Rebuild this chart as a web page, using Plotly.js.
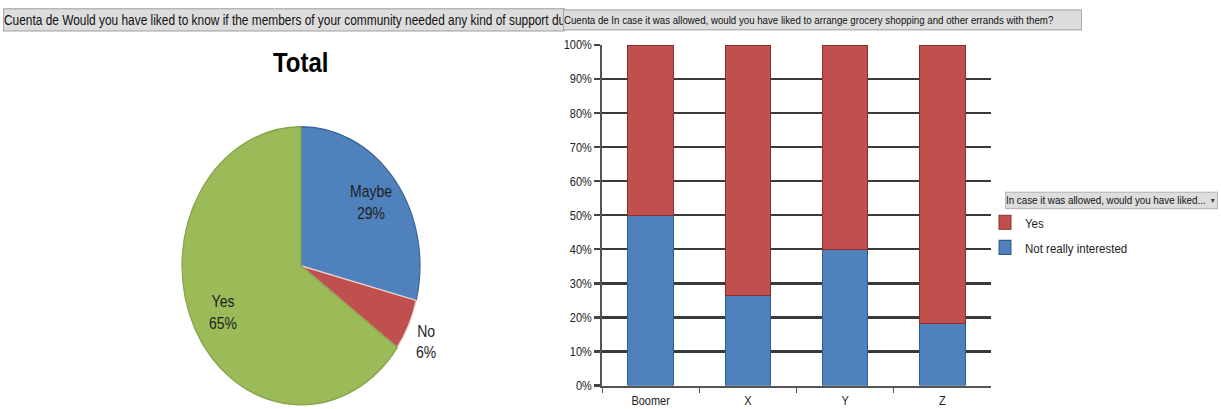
<!DOCTYPE html>
<html>
<head>
<meta charset="utf-8">
<script src="https://cdn.plot.ly/plotly-3.0.1.min.js"></script>
<style>
  html, body { margin: 0; padding: 0; background: #ffffff; overflow: hidden; width: 1221px; height: 409px; }
  #chart { width: 1221px; height: 350px; transform: scaleY(1.1686); transform-origin: 0 0; }
</style>
</head>
<body>
<div id="chart"></div>
<script>
// ---- data ----
const pieLabels = ["Maybe", "No", "Yes"];
const pieValues = [29, 6, 65];
const pieTitle = "Total";

const categories = ["Boomer", "X", "Y", "Z"];
const notInterested = [50, 26.5, 40, 18.2];
const yesValues = [50, 73.5, 60, 81.8];
const yTickVals = [0, 10, 20, 30, 40, 50, 60, 70, 80, 90, 100];
const yTickText = ["0%", "10%", "20%", "30%", "40%", "50%", "60%", "70%", "80%", "90%", "100%"];

const leftHeader = "Cuenta de Would you have liked to know if the members of your community needed any kind of support du";
const rightHeader = "Cuenta de In case it was allowed, would you have liked to arrange grocery shopping and other errands with them?";
const legendHeader = "In case it was allowed, would you have liked...";

// ---- geometry (unscaled figure: 1221 x 350) ----
const W = 1221, H = 350;
const FONT = "Liberation Sans, Arial, sans-serif";
const px = v => v / W;
const py = v => 1 - v / H;

// pie placement
const pieCx = 301, pieCy = 227.4, pieR = 119;
const labelInside = [true, false, true];

const traces = [
  {
    type: "pie",
    labels: pieLabels,
    values: pieValues,
    sort: false,
    direction: "clockwise",
    rotation: 0,
    domain: { x: [px(pieCx - pieR), px(pieCx + pieR)], y: [py(pieCy + pieR), py(pieCy - pieR)] },
    marker: {
      colors: ["#4f81bd", "#c0504d", "#9bbb59"],
      line: { color: ["#3c6596", "#e8d4d4", "#86a34a"], width: 1.2 }
    },
    textinfo: "none",
    showlegend: false,
    hoverinfo: "label+percent"
  },
  {
    type: "bar",
    name: "Not really interested",
    legendgroup: "notint",
    legendrank: 2,
    x: categories,
    y: notInterested,
    xaxis: "x",
    yaxis: "y",
    marker: { color: "#4f81bd", line: { color: "#2f5d8e", width: 1 } }
  },
  {
    type: "bar",
    name: "Yes",
    legendgroup: "yes",
    legendrank: 1,
    x: categories,
    y: yesValues,
    xaxis: "x",
    yaxis: "y",
    marker: { color: "#c0504d", line: { color: "#8c2f2c", width: 1 } }
  }
];

// pie slice labels (label + percent) placed along each slice's mid-angle
const total = pieValues.reduce((a, b) => a + b, 0);
const pieAnnotations = [];
let cum = 0;
pieValues.forEach((v, i) => {
  const mid = (cum + v / 2) / total * 2 * Math.PI;
  cum += v;
  const dist = labelInside[i] ? 0.74 * pieR : 1.16 * pieR;
  const dx = Math.sin(mid) * dist;
  const dy = -Math.cos(mid) * dist + (labelInside[i] ? 0 : 6);
  const pct = Math.round(v / total * 100) + "%";
  pieAnnotations.push({
    text: pieLabels[i] + "<br>" + pct,
    xref: "paper", yref: "paper",
    x: px(pieCx + dx), y: py(pieCy + dy),
    xanchor: "center", yanchor: "middle",
    showarrow: false,
    font: { family: FONT, size: 14, color: "#1e1e1e" }
  });
});

const layout = {
  width: W,
  height: H,
  margin: { l: 0, r: 0, t: 0, b: 0 },
  paper_bgcolor: "#ffffff",
  plot_bgcolor: "rgba(0,0,0,0)",
  font: { family: FONT, size: 11, color: "#222222" },
  barmode: "stack",
  bargap: 0.53,
  xaxis: {
    domain: [px(602), px(991)],
    anchor: "y",
    type: "category",
    showline: true,
    linecolor: "#555555",
    linewidth: 1.5,
    ticks: "outside",
    tickson: "boundaries",
    ticklen: 5,
    tickcolor: "#555555",
    tickwidth: 1.2,
    ticklabelstandoff: 2,
    showgrid: false,
    tickfont: { family: FONT, size: 11, color: "#222222" },
    fixedrange: true
  },
  yaxis: {
    domain: [py(329.9), py(38.46)],
    anchor: "x",
    range: [0, 100],
    tickvals: yTickVals,
    ticktext: yTickText,
    showline: true,
    linecolor: "#555555",
    linewidth: 2,
    ticks: "outside",
    ticklen: 6,
    tickcolor: "#444444",
    tickwidth: 1.5,
    showgrid: true,
    gridcolor: "#3a3a3a",
    gridwidth: 1.6,
    zeroline: false,
    tickfont: { family: FONT, size: 11, color: "#222222" },
    fixedrange: true
  },
  legend: {
    x: px(985),
    xanchor: "left",
    y: py(175.7),
    yanchor: "top",
    traceorder: "grouped",
    bgcolor: "rgba(0,0,0,0)",
    font: { family: FONT, size: 11.5, color: "#222222" },
    itemwidth: 30,
    tracegroupgap: 2.5
  },
  annotations: pieAnnotations.concat([
    {
      text: pieTitle,
      xref: "paper", yref: "paper",
      x: px(301), y: py(54),
      xanchor: "center", yanchor: "middle",
      showarrow: false,
      font: { family: FONT, size: 24, color: "#000000", weight: "bold" }
    },
    {
      text: leftHeader,
      xref: "paper", yref: "paper",
      x: px(3), y: py(6.5),
      xanchor: "left", yanchor: "top",
      width: 560, height: 18,
      align: "left", valign: "middle",
      showarrow: false,
      bgcolor: "#dddddd", bordercolor: "#a8a8a8", borderwidth: 1, borderpad: 0,
      font: { family: FONT, size: 11.9, color: "#111111" }
    },
    {
      text: rightHeader,
      xref: "paper", yref: "paper",
      x: px(563), y: py(7.6),
      xanchor: "left", yanchor: "top",
      width: 517, height: 15.5,
      align: "left", valign: "middle",
      showarrow: false,
      bgcolor: "#dddddd", bordercolor: "#a8a8a8", borderwidth: 1, borderpad: 0,
      font: { family: FONT, size: 9.7, color: "#111111" }
    },
    {
      text: legendHeader,
      xref: "paper", yref: "paper",
      x: px(1005), y: py(164),
      xanchor: "left", yanchor: "top",
      width: 211, height: 12.5,
      align: "left", valign: "middle",
      showarrow: false,
      bgcolor: "#dddddd", bordercolor: "#b8b8b8", borderwidth: 1, borderpad: 0,
      font: { family: FONT, size: 9.8, color: "#111111" }
    },
    {
      text: "▾",
      xref: "paper", yref: "paper",
      x: px(1213), y: py(171.5),
      xanchor: "center", yanchor: "middle",
      showarrow: false,
      font: { family: FONT, size: 7, color: "#333333" }
    }
  ])
};

Plotly.newPlot("chart", traces, layout, { displayModeBar: false, responsive: false });
</script>
</body>
</html>
